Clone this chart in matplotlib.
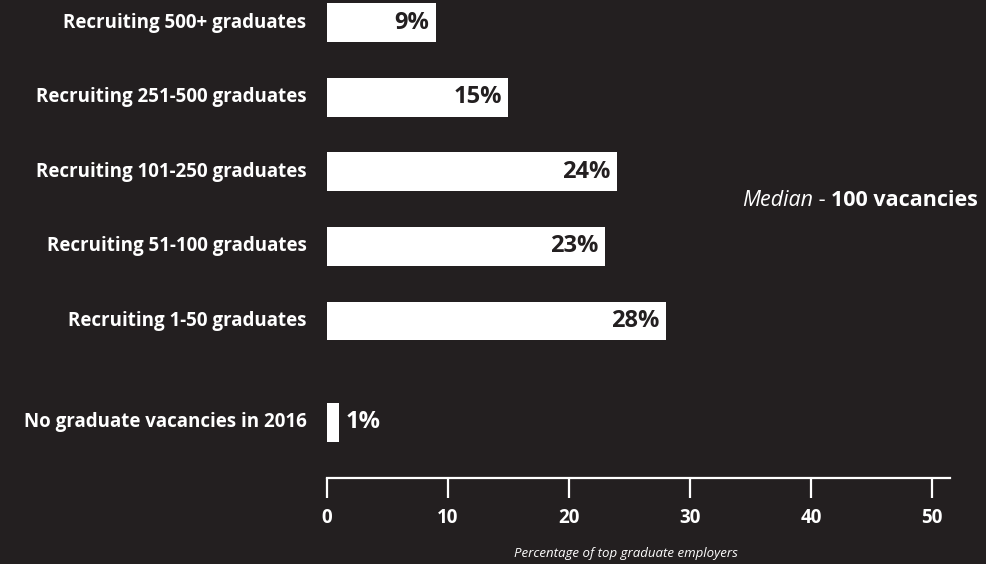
import matplotlib
matplotlib.use("Agg")
import matplotlib.pyplot as plt

categories = [
    "Recruiting 500+ graduates",
    "Recruiting 251-500 graduates",
    "Recruiting 101-250 graduates",
    "Recruiting 51-100 graduates",
    "Recruiting 1-50 graduates",
    "No graduate vacancies in 2016",
]
values = [9, 15, 24, 23, 28, 1]
positions = [0, 1, 2, 3, 4, 5.36]
xticks = [0, 10, 20, 30, 40, 50]

BG = "#231f20"
FG = "white"

plt.rcParams["font.family"] = ["Open Sans", "DejaVu Sans"]

W, H = 986, 564
fig = plt.figure(figsize=(W / 100, H / 100), dpi=100, facecolor=BG)
ax = fig.add_axes([327 / W, (H - 478) / H, 623 / W, 478 / H])
ax.set_facecolor(BG)

ax.barh(positions, values, height=0.52, color=FG, edgecolor="none")
ax.set_xlim(0, 51.5)
ax.set_ylim(6.106, -0.302)

for pos, val, cat in zip(positions, values, categories):
    if val >= 5:
        ax.text(val - 0.55, pos, f"{val}%", ha="right", va="center",
                color=BG, fontsize=17, fontweight="bold")
    else:
        ax.text(val + 0.55, pos, f"{val}%", ha="left", va="center",
                color=FG, fontsize=17, fontweight="bold")
    ax.text(-1.7, pos, cat, ha="right", va="center", color=FG,
            fontsize=13.5, fontweight="bold")

for s in ["top", "right", "left"]:
    ax.spines[s].set_visible(False)
ax.spines["bottom"].set_color(FG)
ax.spines["bottom"].set_linewidth(1.6)
ax.set_yticks([])
ax.set_xticks(xticks)
ax.tick_params(axis="x", colors=FG, direction="out", length=14.5, width=1.6,
               pad=7, labelsize=13.5)
for lbl in ax.get_xticklabels():
    lbl.set_fontweight("bold")

fig.text(626 / W, 1 - 553 / H, "Percentage of top graduate employers",
         ha="center", va="center", color=FG, fontsize=9.5, style="italic")

# Median annotation made of three styled pieces, right-aligned
my = 1 - 200 / H
t3 = fig.text(978 / W, my, "100 vacancies", ha="right", va="center",
              color=FG, fontsize=15.5, fontweight="bold")
fig.canvas.draw()
r = fig.canvas.get_renderer()
bb3 = t3.get_window_extent(r)
t2 = fig.text(bb3.x0 / W, my, " - ", ha="right", va="center",
              color=FG, fontsize=15.5)
bb2 = t2.get_window_extent(r)
fig.text(bb2.x0 / W, my, "Median", ha="right", va="center",
         color=FG, fontsize=15.5, style="italic")

fig.savefig("out.png", dpi=100, facecolor=BG)
